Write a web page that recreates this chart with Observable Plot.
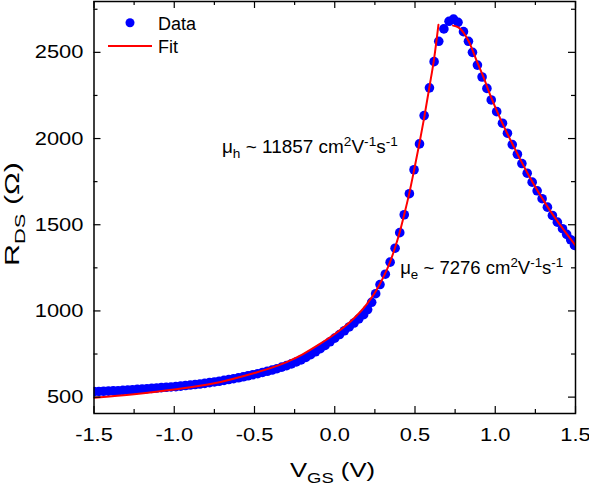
<!DOCTYPE html>
<html>
<head>
<meta charset="utf-8">
<script src="https://cdn.jsdelivr.net/npm/d3@7"></script>
<script src="https://cdn.jsdelivr.net/npm/@observablehq/plot@0.6"></script>
<style>
  html, body { margin: 0; padding: 0; background: #fff; }
  svg { display: block; }
</style>
</head>
<body>
<div id="chart"></div>
<script>
// ---- data ----
const dataV = [-1.50,-1.47,-1.44,-1.41,-1.38,-1.35,-1.32,-1.29,-1.26,-1.23,-1.20,-1.17,-1.14,-1.11,-1.08,-1.05,-1.02,-0.99,-0.96,-0.93,-0.90,-0.87,-0.84,-0.81,-0.78,-0.75,-0.72,-0.69,-0.66,-0.63,-0.60,-0.57,-0.54,-0.51,-0.48,-0.45,-0.42,-0.39,-0.36,-0.33,-0.30,-0.27,-0.24,-0.21,-0.18,-0.15,-0.12,-0.09,-0.06,-0.03,0.00,0.03,0.06,0.09,0.12,0.15,0.18,0.205,0.23,0.255,0.282,0.315,0.345,0.376,0.405,0.433,0.465,0.494,0.528,0.557,0.590,0.619,0.648,0.680,0.712,0.740,0.768,0.802,0.833,0.858,0.889,0.918,0.948,0.975,1.009,1.045,1.076,1.106,1.138,1.166,1.199,1.230,1.261,1.292,1.325,1.356,1.387,1.419,1.445,1.470,1.494];
const dataR = [532,533,534,535,536,537,539,541,543,545,547,549,551,553,555,557,559,561,564,567,570,573,576,580,584,588,592,597,602,607,612,618,624,630,636,643,650,657,665,674,683,693,704,716,730,746,763,781,800,821,842,863,885,907,930,954,978,1008,1050,1100,1153,1213,1283,1364,1454,1558,1680,1819,1969,2133,2294,2446,2564,2636,2680,2693,2674,2620,2564,2500,2426,2357,2291,2224,2156,2089,2031,1965,1909,1855,1799,1747,1697,1651,1602,1554,1515,1477,1444,1413,1380];

const fitHoleV = [-1.50,-1.25,-1.00,-0.75,-0.50,-0.40,-0.30,-0.20,-0.10,0.00,0.10,0.20,0.25,0.30,0.345,0.376,0.405,0.433,0.465,0.494,0.528,0.557,0.590,0.620,0.646];
const fitHoleR = [496,517,544,580,640,668,703,748,804,866,940,1040,1105,1190,1285,1368,1458,1560,1685,1815,1975,2120,2300,2470,2660];

const fitElecV = [0.737,0.770,0.800,0.837,0.889,0.920,0.972,1.034,1.117,1.221,1.325,1.429,1.500];
const fitElecR = [2655,2645,2618,2560,2440,2372,2245,2110,1950,1765,1605,1467,1380];

const xTicks = [-1.5,-1.0,-0.5,0.0,0.5,1.0,1.5];
const xTickLabels = ["-1.5","-1.0","-0.5","0.0","0.5","1.0","1.5"];
const xMinor = [-1.25,-0.75,-0.25,0.25,0.75,1.25];
const yTicks = [500,1000,1500,2000,2500];
const yTickLabels = ["500","1000","1500","2000","2500"];
const yMinor = [750,1250,1750,2250,2750];

const seriesNames = ["Data","Fit"];
const annoHole = {v: -0.70, r: 1913, carrier: "h", value: "11857"};
const annoElec = {v: 0.411, r: 1211, carrier: "e", value: "7276"};

// ---- tables for the library ----
const points = dataV.map((v, i) => ({v, r: dataR[i]}));
const fitHole = fitHoleV.map((v, i) => ({v, r: fitHoleR[i]}));
const fitElec = fitElecV.map((v, i) => ({v, r: fitElecR[i]}));

const W = 589, H = 488;
const mL = 93.5, mR = 14, mT = 1, mB = 75;
const plotW = W - mL - mR, plotH = H - mT - mB;
const blue = "#0000ff", red = "#ff0000";
const fontA = "'Liberation Sans', Arial, sans-serif";

const plot = Plot.plot({
  width: W, height: H,
  marginLeft: mL, marginRight: mR, marginTop: mT, marginBottom: mB,
  style: {fontFamily: fontA, fontSize: "19px", color: "#000", background: "#fff", overflow: "visible"},
  x: {domain: [-1.5, 1.5], ticks: xTicks, tickSize: 0, tickPadding: 13.5,
      tickFormat: d => xTickLabels[xTicks.findIndex(t => Math.abs(t - d) < 1e-9)], label: null},
  y: {domain: [405, 2795], ticks: yTicks, tickSize: 0, tickPadding: 10.6,
      tickFormat: d => yTickLabels[yTicks.indexOf(d)], label: null},
  marks: [
    Plot.dot(points, {x: "v", y: "r", r: 4.8, fill: blue, stroke: "none", clip: true}),
    Plot.line(fitHole, {x: "v", y: "r", stroke: red, strokeWidth: 2, curve: "monotone-x", clip: true}),
    Plot.line(fitElec, {x: "v", y: "r", stroke: red, strokeWidth: 2, curve: "monotone-x", clip: true}),
    // inward ticks on all four sides
    Plot.tickX(xTicks, {x: d => d, insetTop: plotH - 7, stroke: "#000", strokeWidth: 1.2}),
    Plot.tickX(xMinor, {x: d => d, insetTop: plotH - 4, stroke: "#000", strokeWidth: 1.2}),
    Plot.tickX(xTicks, {x: d => d, insetBottom: plotH - 7, stroke: "#000", strokeWidth: 1.2}),
    Plot.tickX(xMinor, {x: d => d, insetBottom: plotH - 4, stroke: "#000", strokeWidth: 1.2}),
    Plot.tickY(yTicks, {y: d => d, insetRight: plotW - 7, stroke: "#000", strokeWidth: 1.2}),
    Plot.tickY(yMinor, {y: d => d, insetRight: plotW - 4, stroke: "#000", strokeWidth: 1.2}),
    Plot.tickY(yTicks, {y: d => d, insetLeft: plotW - 7, stroke: "#000", strokeWidth: 1.2}),
    Plot.tickY(yMinor, {y: d => d, insetLeft: plotW - 4, stroke: "#000", strokeWidth: 1.2}),
    Plot.frame({stroke: "#000", strokeWidth: 1.5})
  ]
});
document.getElementById("chart").appendChild(plot);

const sx = plot.scale("x"), sy = plot.scale("y");
const svg = d3.select(plot);

// stretch Plot's tick labels horizontally like the reference
function stretchTicks(prefix, factor, anchor) {
  plot.querySelectorAll(`g[aria-label^="${prefix}"] text`).forEach(t => {
    const L = t.getComputedTextLength();
    if (!L) return;
    const T = L * factor;
    const x0 = +(t.getAttribute("x") || 0);
    t.setAttribute("textLength", T);
    t.setAttribute("lengthAdjust", "spacingAndGlyphs");
    t.setAttribute("text-anchor", "start");
    t.setAttribute("x", anchor === "end" ? x0 - T : x0 - T / 2);
  });
}
stretchTicks("x-axis", 1.15, "middle");
stretchTicks("y-axis", 1.15, "end");

// rich text with sub / superscripts (start-anchored)
function rich(parent, x, y, parts, size, opt = {}) {
  const t = parent.append("text")
    .attr("x", x).attr("y", y)
    .attr("text-anchor", "start")
    .attr("font-family", fontA).attr("font-size", size).attr("fill", "#000")
    .style("white-space", "pre");
  let cur = 0;
  parts.forEach(([s, kind]) => {
    const target = kind === "sub" ? size * 0.3 : kind === "sup" ? -size * 0.4 : 0;
    const sp = t.append("tspan").text(s).attr("dy", target - cur);
    if (kind) sp.attr("font-size", size * 0.72);
    cur = target;
  });
  if (opt.len) {
    t.attr("textLength", opt.len).attr("lengthAdjust", "spacingAndGlyphs");
    if (opt.center) t.attr("x", x - opt.len / 2);
  }
  return t;
}

// axis titles
rich(svg, 332.5, 476.5, [["V"], ["GS", "sub"], [" (V)"]], 21, {len: 85, center: true});
{
  const cx = 18.5, cy = 214, len = 104;
  const t = rich(svg, cx, cy, [["R"], ["DS", "sub"], [" (\u03A9)"]], 21, {len, center: true});
  t.attr("transform", `rotate(-90 ${cx} ${cy})`);
}

// annotations positioned with the chart's scales
function anno(a, len) {
  rich(svg, sx.apply(a.v), sy.apply(a.r),
    [["\u03BC"], [a.carrier, "sub"], [" ~ " + a.value + " cm"], ["2", "sup"], ["V"], ["-1", "sup"], ["s"], ["-1", "sup"]],
    18, {len});
}
anno(annoHole, 176);
anno(annoElec, 163);

// legend
svg.append("circle").attr("cx", 130).attr("cy", 22.7).attr("r", 4.5).attr("fill", blue);
svg.append("text").attr("x", 158).attr("y", 29.5).attr("text-anchor", "start").attr("font-family", fontA).attr("font-size", 18).attr("fill", "#000").text(seriesNames[0]);
svg.append("line").attr("x1", 108).attr("x2", 152).attr("y1", 46).attr("y2", 46).attr("stroke", red).attr("stroke-width", 2);
svg.append("text").attr("x", 158).attr("y", 53.3).attr("text-anchor", "start").attr("font-family", fontA).attr("font-size", 18).attr("fill", "#000").text(seriesNames[1]);
</script>
</body>
</html>
